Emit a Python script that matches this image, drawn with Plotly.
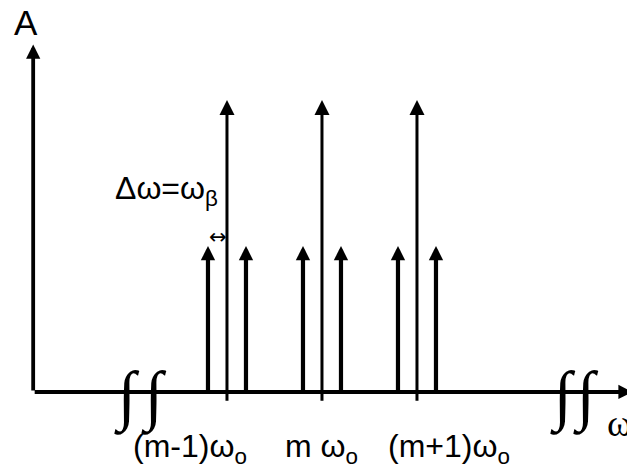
import plotly.graph_objects as go

# ---- data (diagram units: x in multiples of omega_0 relative to m*omega_0, y = amplitude A) ----
harmonic_orders = [-1, 0, 1]
carrier_amplitudes = [1.0, 1.0, 1.0]
sideband_offset = 0.2            # delta omega = omega_beta, in units of omega_0
sideband_amplitudes = [0.5, 0.5, 0.5]
harmonic_labels = ["(m-1)ω<sub>o</sub>", "m ω<sub>o</sub>", "(m+1)ω<sub>o</sub>"]
label_shift = [-1.39, 0.0, 1.34]   # label centre (diagram units)
axis_x_start = -3.04
axis_x_end = 3.27
axis_y_end = 1.19
tick_depth = -0.035
breaks_x = [-2.05, -1.77, 2.54, 2.78]

# page body has an 8px margin: the figure covers window pixels 8..635 x 8..468
X_RANGE = [-3.305, 3.295]
Y_RANGE = [-0.2603, 1.315]

fig = go.Figure()
fig.add_trace(go.Scatter(x=X_RANGE, y=Y_RANGE, mode="markers", marker=dict(opacity=0),
                         hoverinfo="skip", showlegend=False))

anns = []

def arrow(x0, y0, x1, y1, width, size=1.0, head=2):
    anns.append(dict(x=x1, y=y1, ax=x0, ay=y0, xref="x", yref="y", axref="x", ayref="y",
                     text="", showarrow=True, arrowhead=head, arrowsize=size,
                     arrowwidth=width, arrowcolor="black"))

# axes
arrow(axis_x_start, 0, axis_x_end, 0, 3.8, 0.75)
arrow(axis_x_start, 0, axis_x_start, axis_y_end, 3.8, 0.75)

# spectral lines
for h, a, s in zip(harmonic_orders, carrier_amplitudes, sideband_amplitudes):
    arrow(h, tick_depth, h, a, 3.0, 1.0)
    arrow(h - sideband_offset, 0, h - sideband_offset, s, 4.2, 0.68)
    arrow(h + sideband_offset, 0, h + sideband_offset, s, 4.2, 0.68)

# delta omega double arrow (between first sideband and its carrier)
anns.append(dict(x=harmonic_orders[0] - sideband_offset * 0.48, y=0.532, xref="x", yref="y",
                 text="↔", showarrow=False,
                 font=dict(family="DejaVu Sans, sans-serif", size=21, color="black"),
                 xanchor="center", yanchor="middle"))

font = dict(family="Liberation Sans, Arial, sans-serif", size=32, color="black")
for h, lab, sh in zip(harmonic_orders, harmonic_labels, label_shift):
    anns.append(dict(x=sh, y=-0.193, xref="x", yref="y", text=lab, showarrow=False,
                     font=font, xanchor="center", yanchor="middle"))

anns.append(dict(x=-1.64, y=0.69, xref="x", yref="y", text="Δω=ω<sub>β</sub>", showarrow=False,
                 font=font, xanchor="center", yanchor="middle"))
anns.append(dict(x=-3.116, y=1.264, xref="x", yref="y", text="A", showarrow=False,
                 font=dict(family="Liberation Sans, Arial, sans-serif", size=35, color="black"),
                 xanchor="center", yanchor="middle"))
anns.append(dict(x=3.13, y=-0.105, xref="x", yref="y", text="ω", showarrow=False,
                 font=dict(family="Liberation Serif, Times New Roman, serif", size=38, color="black"),
                 xanchor="center", yanchor="middle"))

for bx in breaks_x:
    anns.append(dict(x=bx, y=-0.014, xref="x", yref="y", text="∫", showarrow=False,
                     font=dict(family="Liberation Serif, Times New Roman, serif", size=66, color="black"),
                     xanchor="center", yanchor="middle"))

fig.update_layout(
    width=627, height=460, autosize=False,
    margin=dict(l=0, r=0, t=0, b=0),
    paper_bgcolor="white", plot_bgcolor="white",
    xaxis=dict(range=X_RANGE, visible=False, fixedrange=True),
    yaxis=dict(range=Y_RANGE, visible=False, fixedrange=True),
    annotations=anns, showlegend=False,
)
fig.write_html("out.html")
